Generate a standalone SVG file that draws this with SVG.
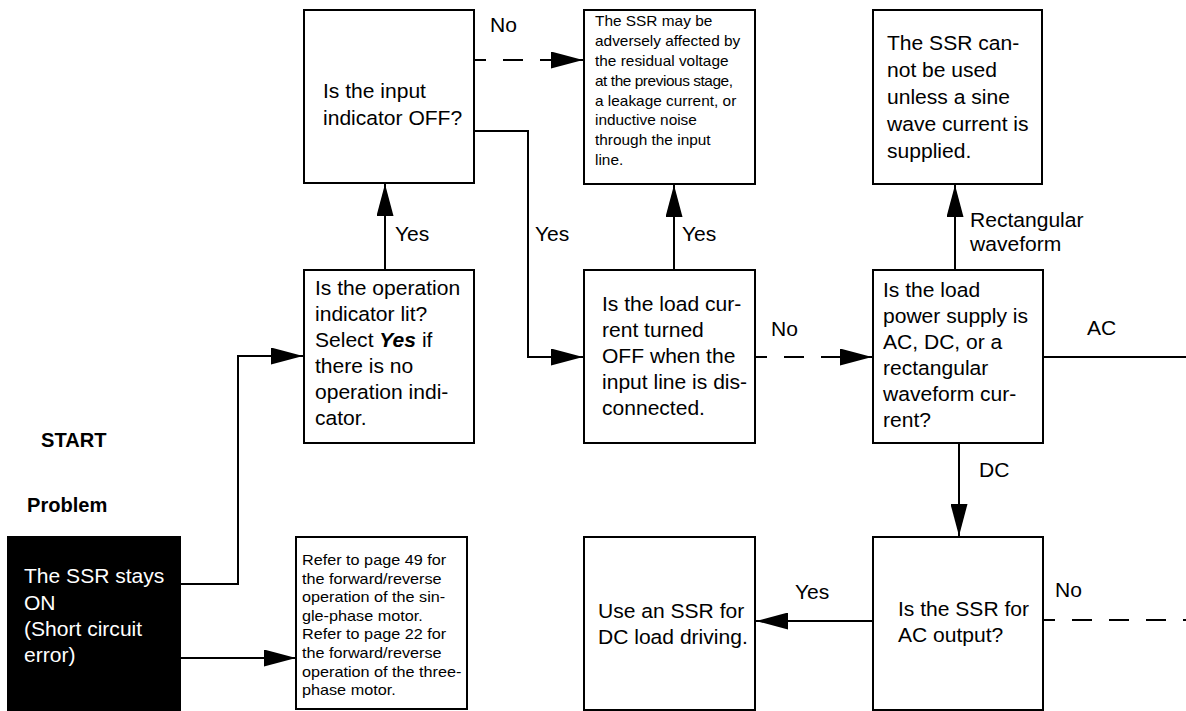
<svg xmlns="http://www.w3.org/2000/svg" width="1186" height="711" viewBox="0 0 1186 711">
<defs>
<style>
.box{fill:#fff;stroke:#000;stroke-width:2}
.blk{fill:#000;stroke:#000;stroke-width:2}
.ln{fill:none;stroke:#000;stroke-width:2}
.dash{stroke-dasharray:20 17;stroke-dashoffset:8}
.t{font-family:"Liberation Sans",Arial,Helvetica,sans-serif;font-size:19.5px;fill:#000}
.s{font-size:14.4px}
.m{font-size:15px}
.w{fill:#fff}
.b{font-weight:bold}
</style>
<marker id="ah" markerUnits="userSpaceOnUse" markerWidth="32" markerHeight="17" viewBox="0 0 32 17" refX="32" refY="8.5" orient="auto">
<path d="M0,0 L32,8.5 L0,17 Z" fill="#000"/>
</marker>
</defs>
<rect width="1186" height="711" fill="#fff"/>

<g id="connectors">
<path class="ln dash" d="M474,60 H583" marker-end="url(#ah)"/>
<path class="ln" d="M474,131 H528 V357 H583" marker-end="url(#ah)"/>
<path class="ln" d="M385,270 V184" marker-end="url(#ah)"/>
<path class="ln" d="M674,270 V185" marker-end="url(#ah)"/>
<path class="ln dash" d="M755,357 H872" marker-end="url(#ah)"/>
<path class="ln" d="M955,270 V185" marker-end="url(#ah)"/>
<path class="ln" d="M1043,357 H1186"/>
<path class="ln" d="M959,443 V536" marker-end="url(#ah)"/>
<path class="ln" d="M873,621 H756" marker-end="url(#ah)"/>
<path class="ln dash" d="M1043,620 H1186"/>
<path class="ln" d="M180,584 H238 V356 H303" marker-end="url(#ah)"/>
<path class="ln" d="M181,658 H296" marker-end="url(#ah)"/>
<text class="t" transform="translate(490,32) scale(1.08,1)">No</text>
<text class="t" transform="translate(395,241) scale(1.08,1)">Yes</text>
<text class="t" transform="translate(535,241) scale(1.08,1)">Yes</text>
<text class="t" transform="translate(682,241) scale(1.08,1)">Yes</text>
<text class="t" transform="translate(771,336) scale(1.08,1)">No</text>
<text class="t" transform="translate(970,227) scale(1.08,1)"><tspan x="0" y="0">Rectangular</tspan><tspan x="0" y="24">waveform</tspan></text>
<text class="t" transform="translate(1087,335) scale(1.08,1)">AC</text>
<text class="t" transform="translate(979,477) scale(1.08,1)">DC</text>
<text class="t" transform="translate(795,599) scale(1.08,1)">Yes</text>
<text class="t" transform="translate(1055,597) scale(1.08,1)">No</text>
</g>

<g id="labels">
<text class="t b" transform="translate(41,447) scale(1.03,1)">START</text>
<text class="t b" transform="translate(27,512) scale(1.03,1)">Problem</text>
</g>

<g id="start">
<rect class="blk" x="8" y="537" width="172" height="175"/>
<text class="t w" transform="translate(24,583) scale(1.08,1)"><tspan x="0" y="0">The SSR stays</tspan><tspan x="0" y="27">ON</tspan><tspan x="0" y="53">(Short circuit</tspan><tspan x="0" y="79">error)</tspan></text>
</g>

<g id="refer">
<rect class="box" x="296" y="537" width="171" height="172"/>
<text class="t m" transform="translate(302,565) scale(1.08,1)"><tspan x="0" y="0">Refer to page 49 for</tspan><tspan x="0" y="18.6">the forward/reverse</tspan><tspan x="0" y="37.2">operation of the sin-</tspan><tspan x="0" y="55.8">gle-phase motor.</tspan><tspan x="0" y="74.4">Refer to page 22 for</tspan><tspan x="0" y="93">the forward/reverse</tspan><tspan x="0" y="111.6">operation of the three-</tspan><tspan x="0" y="130.2">phase motor.</tspan></text>
</g>

<g id="input-off">
<rect class="box" x="304" y="10" width="170" height="173"/>
<text class="t" transform="translate(323,98) scale(1.08,1)"><tspan x="0" y="0">Is the input</tspan><tspan x="0" y="27">indicator OFF?</tspan></text>
</g>

<g id="residual">
<rect class="box" x="584" y="10" width="171" height="174"/>
<text class="t s" transform="translate(595,26) scale(1.07,1)"><tspan x="0" y="0">The SSR may be</tspan><tspan x="0" y="19.9">adversely affected by</tspan><tspan x="0" y="39.8">the residual voltage</tspan><tspan x="0" y="59.7" textLength="129" lengthAdjust="spacing">at the previous stage,</tspan><tspan x="0" y="79.6">a leakage current, or</tspan><tspan x="0" y="99.5">inductive noise</tspan><tspan x="0" y="119.4">through the input</tspan><tspan x="0" y="139.3">line.</tspan></text>
</g>

<g id="sine">
<rect class="box" x="873" y="10" width="169" height="174"/>
<text class="t" transform="translate(887,50) scale(1.08,1)"><tspan x="0" y="0">The SSR can-</tspan><tspan x="0" y="27">not be used</tspan><tspan x="0" y="54">unless a sine</tspan><tspan x="0" y="81">wave current is</tspan><tspan x="0" y="108">supplied.</tspan></text>
</g>

<g id="op-lit">
<rect class="box" x="304" y="270" width="170" height="173"/>
<text class="t" transform="translate(315,295) scale(1.08,1)"><tspan x="0" y="0">Is the operation</tspan><tspan x="0" y="26">indicator lit?</tspan><tspan x="0" y="52">Select <tspan font-weight="bold" font-style="italic">Yes</tspan> if</tspan><tspan x="0" y="78">there is no</tspan><tspan x="0" y="104">operation indi-</tspan><tspan x="0" y="130">cator.</tspan></text>
</g>

<g id="load-off">
<rect class="box" x="584" y="270" width="171" height="173"/>
<text class="t" transform="translate(602,311) scale(1.08,1)"><tspan x="0" y="0">Is the load cur-</tspan><tspan x="0" y="26">rent turned</tspan><tspan x="0" y="52">OFF when the</tspan><tspan x="0" y="78">input line is dis-</tspan><tspan x="0" y="104">connected.</tspan></text>
</g>

<g id="power-type">
<rect class="box" x="873" y="270" width="170" height="173"/>
<text class="t" transform="translate(883,297) scale(1.08,1)"><tspan x="0" y="0">Is the load</tspan><tspan x="0" y="26">power supply is</tspan><tspan x="0" y="52">AC, DC, or a</tspan><tspan x="0" y="78">rectangular</tspan><tspan x="0" y="104">waveform cur-</tspan><tspan x="0" y="130">rent?</tspan></text>
</g>

<g id="dc-driving">
<rect class="box" x="584" y="537" width="171" height="173"/>
<text class="t" transform="translate(598,618) scale(1.08,1)"><tspan x="0" y="0">Use an SSR for</tspan><tspan x="0" y="26">DC load driving.</tspan></text>
</g>

<g id="ac-output">
<rect class="box" x="873" y="537" width="170" height="173"/>
<text class="t" transform="translate(898,616) scale(1.08,1)"><tspan x="0" y="0">Is the SSR for</tspan><tspan x="0" y="26">AC output?</tspan></text>
</g>
</svg>
